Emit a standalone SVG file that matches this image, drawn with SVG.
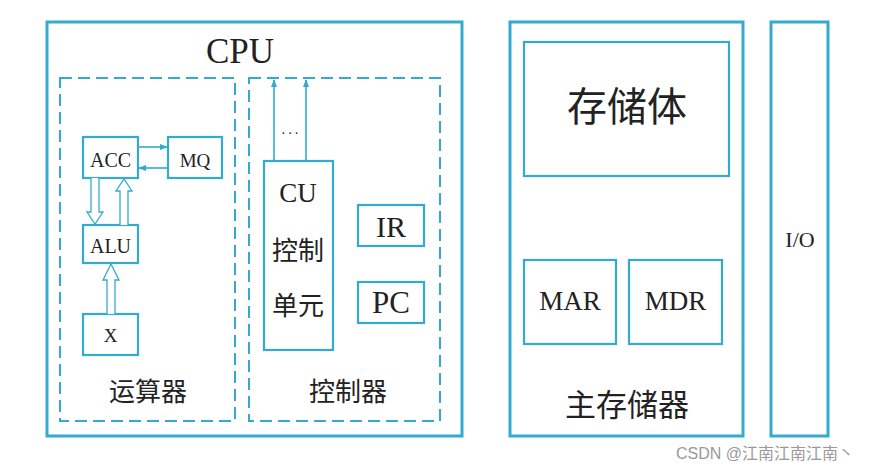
<svg xmlns="http://www.w3.org/2000/svg" width="895" height="472" viewBox="0 0 895 472">
<defs>
<style>
.box{fill:none;stroke:#33abd0;stroke-width:2.2}
.outer{fill:none;stroke:#33abd0;stroke-width:3}
.dash{fill:none;stroke:#33abd0;stroke-width:2;stroke-dasharray:12 6}
.ln{fill:none;stroke:#33abd0;stroke-width:1.6}
.hol{fill:#fff;stroke:#33abd0;stroke-width:1.3}
.t{font-family:"Liberation Serif","Noto Sans CJK SC",serif;fill:#222;text-anchor:middle}
.wm{font-family:"Liberation Sans","Noto Sans CJK SC",sans-serif;fill:#999;font-size:16px}
</style>
<marker id="ah" markerWidth="8" markerHeight="6" refX="7" refY="3" orient="auto" markerUnits="userSpaceOnUse">
<path d="M0,0 L8,3 L0,6 Z" fill="#33abd0"/>
</marker>
</defs>
<rect width="895" height="472" fill="#fff"/>

<g id="cpu">
<rect class="outer" x="47" y="22" width="415" height="414"/>
<text class="t" x="240" y="63" font-size="35">CPU</text>
</g>
<g id="alu-unit">
<rect class="dash" x="60" y="78" width="175" height="343"/>
<text class="t" x="148" y="401" font-size="26">运算器</text>
</g>
<g id="ctrl-unit">
<rect class="dash" x="249" y="78" width="191" height="343"/>
<text class="t" x="348" y="401" font-size="26">控制器</text>
</g>
<g id="acc">
<rect class="box" x="83" y="137" width="55" height="41"/>
<text class="t" x="110.5" y="167" font-size="20">ACC</text>
</g>
<g id="mq">
<rect class="box" x="168" y="137" width="54" height="41"/>
<text class="t" x="195" y="167" font-size="19">MQ</text>
</g>
<g id="alu">
<rect class="box" x="83" y="225" width="55" height="38"/>
<text class="t" x="110.5" y="253" font-size="20">ALU</text>
</g>
<g id="x">
<rect class="box" x="83" y="314" width="55" height="41"/>
<text class="t" x="110.5" y="342" font-size="19">X</text>
</g>
<g id="cu">
<rect class="box" x="264" y="161" width="69" height="189"/>
<text class="t" x="298" y="202" font-size="27">CU</text>
<text class="t" x="298" y="260" font-size="26">控制</text>
<text class="t" x="298" y="315" font-size="26">单元</text>
</g>
<g id="ir">
<rect class="box" x="358" y="205" width="66" height="41"/>
<text class="t" x="391" y="237" font-size="30">IR</text>
</g>
<g id="pc">
<rect class="box" x="358" y="282" width="66" height="41"/>
<text class="t" x="391" y="313" font-size="31">PC</text>
</g>
<g id="mem">
<rect class="outer" x="510" y="22" width="233" height="414"/>
<text class="t" x="627" y="416" font-size="31">主存储器</text>
</g>
<g id="bank">
<rect class="box" x="524" y="42" width="205" height="134"/>
<text class="t" x="627" y="121" font-size="40">存储体</text>
</g>
<g id="mar">
<rect class="box" x="524" y="260" width="92" height="84"/>
<text class="t" x="570" y="310" font-size="27">MAR</text>
</g>
<g id="mdr">
<rect class="box" x="629" y="260" width="93" height="84"/>
<text class="t" x="675.5" y="310" font-size="27">MDR</text>
</g>
<g id="io">
<rect class="outer" x="771" y="22" width="57" height="414"/>
<text class="t" x="800" y="247" font-size="22">I/O</text>
</g>

<g id="connectors">
<line class="ln" x1="138" y1="147" x2="167" y2="147" marker-end="url(#ah)"/>
<line class="ln" x1="168" y1="168" x2="139" y2="168" marker-end="url(#ah)"/>
<path class="hol" d="M91,178 L91,212 L87,212 L95,224 L103,212 L99,212 L99,178"/>
<path class="hol" d="M120,225 L120,191 L116,191 L124,179 L132,191 L128,191 L128,225"/>
<path class="hol" d="M107,314 L107,280 L103,280 L111,264 L119,280 L115,280 L115,314"/>
<line class="ln" x1="274" y1="161" x2="274" y2="80" marker-end="url(#ah)"/>
<line class="ln" x1="306" y1="161" x2="306" y2="80" marker-end="url(#ah)"/>
<text class="t" x="291" y="138" font-size="14" fill="#33abd0" letter-spacing="2">···</text>
</g>

<text class="wm" x="676" y="459">CSDN @江南江南江南丶</text>
</svg>
